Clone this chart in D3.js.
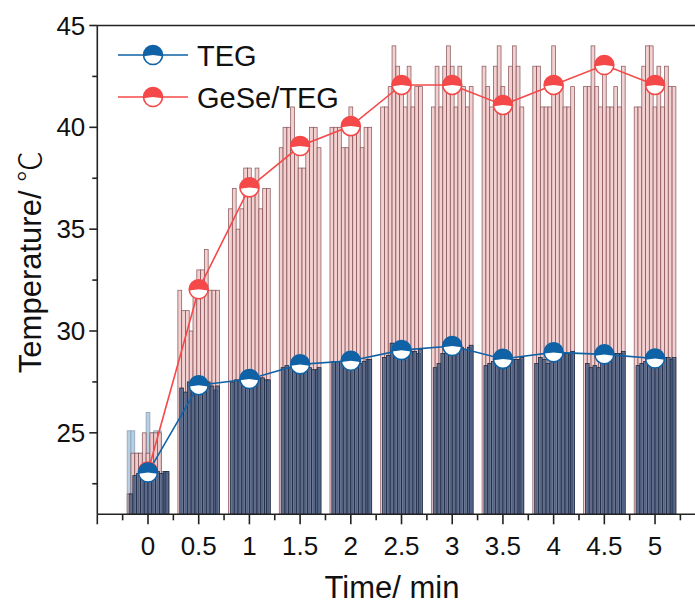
<!DOCTYPE html>
<html><head><meta charset="utf-8">
<script src="https://cdn.jsdelivr.net/npm/d3@7"></script>
<style>body{margin:0;background:#fff;} svg{display:block;font-family:"Liberation Sans",Arial,sans-serif;}</style>
</head><body><svg id="c" width="695" height="608"></svg>
<script>
// ---- data ----
const times = [0, 0.5, 1, 1.5, 2, 2.5, 3, 3.5, 4, 4.5, 5];
const tegMean   = [23.05, 27.34, 27.64, 28.36, 28.54, 29.06, 29.26, 28.63, 28.95, 28.85, 28.65];
const geseMean  = [23.1, 32.05, 37.05, 39.08, 40.06, 42.08, 42.08, 41.1, 42.08, 43.06, 42.08];
// per-time pixel temperatures (bars), 11 per cluster
const geseBars = [
  [22, 24, 24, 24, 25, 24, 25, 25, 25, 23, 23],
  [32, 31, 31, 30, 32, 33, 33, 34, 32, 32, 32],
  [36, 37, 35, 36, 38, 38, 37, 38, 36, 37, 37],
  [39, 40, 40, 41, 39, 38, 38, 39, 40, 40, 39],
  [40, 40, 40, 39, 39, 41, 40, 40, 39, 40, 40],
  [41, 41, 42, 44, 43, 42, 41, 43, 41, 42, 42],
  [41, 43, 41, 43, 44, 43, 41, 43, 42, 41, 42],
  [43, 42, 41, 43, 44, 42, 41, 43, 44, 43, 41],
  [43, 43, 41, 41, 41, 44, 42, 42, 41, 41, 42],
  [42, 42, 44, 42, 41, 43, 41, 41, 42, 41, 43],
  [41, 41, 43, 44, 44, 41, 43, 41, 43, 42, 42]
];
const tegBars = [
  [22.0, 22.9, 23.0, 23.1, 23.1, 23.0, 23.1, 23.1, 23.0, 23.1, 23.1],
  [27.2, 27.0, 27.5, 27.6, 27.5, 27.4, 27.4, 27.5, 27.3, 27.1, 27.3],
  [27.5, 27.6, 27.6, 27.6, 27.7, 27.7, 27.6, 27.7, 27.7, 27.6, 27.6],
  [28.2, 28.3, 28.2, 28.1, 28.3, 28.4, 28.3, 28.2, 28.1, 28.1, 28.2],
  [28.5, 28.5, 28.5, 28.6, 28.6, 28.6, 28.5, 28.4, 28.5, 28.6, 28.6],
  [28.7, 28.8, 29.4, 29.3, 29.2, 29.1, 29.0, 29.0, 29.0, 28.9, 29.1],
  [28.2, 28.4, 28.9, 28.9, 29.0, 29.3, 29.4, 29.2, 29.1, 29.2, 29.3],
  [28.3, 28.4, 28.5, 28.6, 28.6, 28.6, 28.7, 28.6, 28.6, 28.6, 28.7],
  [28.4, 28.7, 28.6, 28.4, 28.5, 28.6, 28.8, 28.9, 28.9, 28.9, 29.0],
  [28.4, 28.2, 28.3, 28.2, 28.5, 28.7, 28.8, 28.9, 28.9, 28.9, 29.0],
  [28.3, 28.4, 28.5, 28.8, 28.6, 28.6, 28.7, 28.7, 28.7, 28.6, 28.7]
];
// light TEG readings visible at t = 0
const tegStart = [25.1, 25.1, 24, 24, 24, 26, 25, 25.1, 25.1, 23.1, 23.1];
const xTickLabels = ["0","0.5","1","1.5","2","2.5","3","3.5","4","4.5","5"];
const yTickLabels = [25, 30, 35, 40, 45];
const seriesNames = ["TEG", "GeSe/TEG"];

// ---- scales ----
const svg = d3.select("#c");
const x = d3.scaleLinear().domain([-0.5, 5.4]).range([97.3, 695.6]);
const y = d3.scaleLinear().domain([21, 45]).range([514.3, 25.5]);
const clusterW = 0.411;
const idx = d3.range(11);
const band = t => d3.scaleBand().domain(idx).range([x(t - clusterW/2), x(t + clusterW/2)]).padding(0);

const blue = "#0f62a6", red = "#f54848";

const g = svg.append("g");
// light TEG bars at t=0
{
  const b = band(times[0]);
  g.selectAll(".lb").data(tegStart).join("rect")
    .attr("x", (d,i)=>b(i)).attr("width", b.bandwidth())
    .attr("y", d=>y(d)).attr("height", d=>y(21)-y(d))
    .attr("fill", "#b8cee2").attr("stroke", "#8ea4b8").attr("stroke-width", 0.8);
}
// GeSe/TEG bars
times.forEach((t, k) => {
  const b = band(t);
  g.append("g").selectAll("rect").data(geseBars[k]).join("rect")
    .attr("x", (d,i)=>b(i)).attr("width", b.bandwidth())
    .attr("y", d=>y(d)).attr("height", d=>y(21)-y(d))
    .attr("fill", "#f3cccc").attr("fill-opacity", 0.9)
    .attr("stroke", "#7d4a4f").attr("stroke-width", 0.8).attr("stroke-opacity", 0.85);
});
// TEG bars
times.forEach((t, k) => {
  const b = band(t);
  const off = b.bandwidth()/2;
  g.append("g").selectAll("rect").data(tegBars[k]).join("rect")
    .attr("x", (d,i)=>b(i) + (i < 10 ? off : 0))
    .attr("width", b.bandwidth())
    .attr("y", d=>y(d)).attr("height", d=>y(21)-y(d))
    .attr("fill", "#4a6186").attr("fill-opacity", 0.82)
    .attr("stroke", "#1e2b44").attr("stroke-width", 0.8);
});

// lines
const line = d3.line().x((d,i)=>x(times[i])).y(d=>y(d));
g.append("path").datum(geseMean).attr("d", line).attr("fill","none").attr("stroke", red).attr("stroke-width", 1.6);
g.append("path").datum(tegMean).attr("d", line).attr("fill","none").attr("stroke", blue).attr("stroke-width", 1.6);

// half-filled markers
const R = 9.5;
function marker(sel, cx, cy, col) {
  sel.append("circle").attr("cx", cx).attr("cy", cy).attr("r", R).attr("fill", "#fff").attr("stroke", col).attr("stroke-width", 1.6);
  const arc = d3.arc().innerRadius(0).outerRadius(R).startAngle(-Math.PI/2 - 0.13).endAngle(Math.PI/2 + 0.13);
  sel.append("path").attr("d", arc()).attr("transform", `translate(${cx},${cy})`).attr("fill", col);
}
geseMean.forEach((v,i)=>marker(g, x(times[i]), y(v), red));
tegMean.forEach((v,i)=>marker(g, x(times[i]), y(v), blue));

// axes
const ax = svg.append("g").attr("stroke", "#222").attr("stroke-width", 1.6);
ax.append("line").attr("x1", x(-0.5)).attr("x2", 695).attr("y1", y(21)).attr("y2", y(21));
ax.append("line").attr("x1", x(-0.5)).attr("x2", 695).attr("y1", y(45)).attr("y2", y(45));
ax.append("line").attr("x1", x(-0.5)).attr("x2", x(-0.5)).attr("y1", y(45)).attr("y2", y(21));
// x ticks
d3.range(-0.5, 5.3, 0.5).forEach(t => {
  ax.append("line").attr("x1", x(t)).attr("x2", x(t)).attr("y1", y(21)).attr("y2", y(21)+10);
});
d3.range(-0.25, 5.3, 0.5).forEach(t => {
  ax.append("line").attr("x1", x(t)).attr("x2", x(t)).attr("y1", y(21)).attr("y2", y(21)+6);
});
// y ticks
yTickLabels.forEach(v => ax.append("line").attr("x1", x(-0.5)-8).attr("x2", x(-0.5)).attr("y1", y(v)).attr("y2", y(v)));
[22.5, 27.5, 32.5, 37.5, 42.5].forEach(v => ax.append("line").attr("x1", x(-0.5)-5).attr("x2", x(-0.5)).attr("y1", y(v)).attr("y2", y(v)));

const txt = svg.append("g").attr("fill", "#111");
times.forEach((t,i) => txt.append("text").attr("x", x(t)).attr("y", y(21)+41).attr("text-anchor","middle").attr("font-size", 26).text(xTickLabels[i]));
yTickLabels.forEach(v => txt.append("text").attr("x", x(-0.5)-12).attr("y", y(v)+9).attr("text-anchor","end").attr("font-size", 26).text(v));
txt.append("text").attr("x", 392).attr("y", 598).attr("text-anchor","middle").attr("font-size", 31).text("Time/ min");
const yt = txt.append("text").attr("transform", "translate(41,262) rotate(-90)").attr("text-anchor","middle").attr("font-size", 31);
yt.append("tspan").text("Temperature/ ");
yt.append("tspan").attr("font-family", "'Noto Sans CJK SC'").attr("font-weight", 300).text("℃");

// legend
const cols = [blue, red];
seriesNames.forEach((n,i) => {
  const ly = 55 + i*42;
  svg.append("line").attr("x1", 118).attr("x2", 188).attr("y1", ly).attr("y2", ly).attr("stroke", cols[i]).attr("stroke-width", 1.6);
  marker(svg, 153, ly, cols[i]);
  svg.append("text").attr("x", 197).attr("y", ly+11).attr("font-size", 29).attr("fill", "#111").text(n);
});
</script></body></html>
